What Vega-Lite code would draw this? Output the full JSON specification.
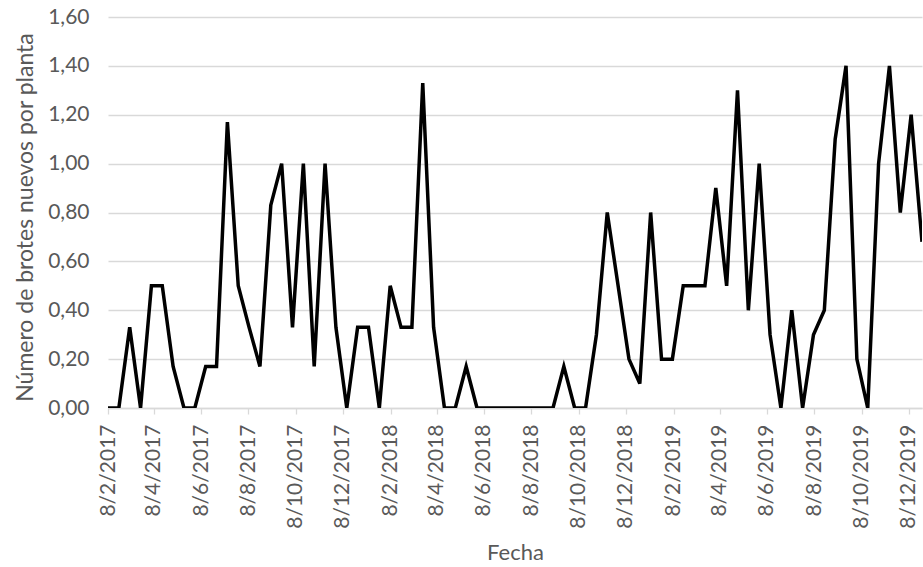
{
  "$schema": "https://vega.github.io/schema/vega-lite/v6.json",
  "autosize": "none",
  "padding": {"left": 108, "top": 17, "right": 1, "bottom": 159},
  "width": 814,
  "height": 391,
  "background": "white",
  "config": {
    "view": {"stroke": null},
    "font": "Lato"
  },
  "data": {
    "values": [
      {"fecha": "2017-02-08T00:00:00", "brotes": 0},
      {"fecha": "2017-02-22T00:00:00", "brotes": 0},
      {"fecha": "2017-03-08T00:00:00", "brotes": 0.33},
      {"fecha": "2017-03-22T00:00:00", "brotes": 0},
      {"fecha": "2017-04-05T00:00:00", "brotes": 0.5},
      {"fecha": "2017-04-19T00:00:00", "brotes": 0.5},
      {"fecha": "2017-05-03T00:00:00", "brotes": 0.17},
      {"fecha": "2017-05-17T00:00:00", "brotes": 0},
      {"fecha": "2017-05-31T00:00:00", "brotes": 0},
      {"fecha": "2017-06-14T00:00:00", "brotes": 0.17},
      {"fecha": "2017-06-28T00:00:00", "brotes": 0.17},
      {"fecha": "2017-07-12T00:00:00", "brotes": 1.17},
      {"fecha": "2017-07-26T00:00:00", "brotes": 0.5},
      {"fecha": "2017-08-09T00:00:00", "brotes": 0.33},
      {"fecha": "2017-08-23T00:00:00", "brotes": 0.17},
      {"fecha": "2017-09-06T00:00:00", "brotes": 0.83},
      {"fecha": "2017-09-20T00:00:00", "brotes": 1.0},
      {"fecha": "2017-10-04T00:00:00", "brotes": 0.33},
      {"fecha": "2017-10-18T00:00:00", "brotes": 1.0},
      {"fecha": "2017-11-01T00:00:00", "brotes": 0.17},
      {"fecha": "2017-11-15T00:00:00", "brotes": 1.0},
      {"fecha": "2017-11-29T00:00:00", "brotes": 0.33},
      {"fecha": "2017-12-13T00:00:00", "brotes": 0},
      {"fecha": "2017-12-27T00:00:00", "brotes": 0.33},
      {"fecha": "2018-01-10T00:00:00", "brotes": 0.33},
      {"fecha": "2018-01-24T00:00:00", "brotes": 0},
      {"fecha": "2018-02-07T00:00:00", "brotes": 0.5},
      {"fecha": "2018-02-21T00:00:00", "brotes": 0.33},
      {"fecha": "2018-03-07T00:00:00", "brotes": 0.33},
      {"fecha": "2018-03-21T00:00:00", "brotes": 1.33},
      {"fecha": "2018-04-04T00:00:00", "brotes": 0.33},
      {"fecha": "2018-04-18T00:00:00", "brotes": 0},
      {"fecha": "2018-05-02T00:00:00", "brotes": 0},
      {"fecha": "2018-05-16T00:00:00", "brotes": 0.17},
      {"fecha": "2018-05-30T00:00:00", "brotes": 0},
      {"fecha": "2018-06-13T00:00:00", "brotes": 0},
      {"fecha": "2018-06-27T00:00:00", "brotes": 0},
      {"fecha": "2018-07-11T00:00:00", "brotes": 0},
      {"fecha": "2018-07-25T00:00:00", "brotes": 0},
      {"fecha": "2018-08-08T00:00:00", "brotes": 0},
      {"fecha": "2018-08-22T00:00:00", "brotes": 0},
      {"fecha": "2018-09-05T00:00:00", "brotes": 0},
      {"fecha": "2018-09-19T00:00:00", "brotes": 0.17},
      {"fecha": "2018-10-03T00:00:00", "brotes": 0},
      {"fecha": "2018-10-17T00:00:00", "brotes": 0},
      {"fecha": "2018-10-31T00:00:00", "brotes": 0.3},
      {"fecha": "2018-11-14T00:00:00", "brotes": 0.8},
      {"fecha": "2018-11-28T00:00:00", "brotes": 0.5},
      {"fecha": "2018-12-12T00:00:00", "brotes": 0.2},
      {"fecha": "2018-12-26T00:00:00", "brotes": 0.1},
      {"fecha": "2019-01-09T00:00:00", "brotes": 0.8},
      {"fecha": "2019-01-23T00:00:00", "brotes": 0.2},
      {"fecha": "2019-02-06T00:00:00", "brotes": 0.2},
      {"fecha": "2019-02-20T00:00:00", "brotes": 0.5},
      {"fecha": "2019-03-06T00:00:00", "brotes": 0.5},
      {"fecha": "2019-03-20T00:00:00", "brotes": 0.5},
      {"fecha": "2019-04-03T00:00:00", "brotes": 0.9},
      {"fecha": "2019-04-17T00:00:00", "brotes": 0.5},
      {"fecha": "2019-05-01T00:00:00", "brotes": 1.3},
      {"fecha": "2019-05-15T00:00:00", "brotes": 0.4},
      {"fecha": "2019-05-29T00:00:00", "brotes": 1.0},
      {"fecha": "2019-06-12T00:00:00", "brotes": 0.3},
      {"fecha": "2019-06-26T00:00:00", "brotes": 0},
      {"fecha": "2019-07-10T00:00:00", "brotes": 0.4},
      {"fecha": "2019-07-24T00:00:00", "brotes": 0},
      {"fecha": "2019-08-07T00:00:00", "brotes": 0.3},
      {"fecha": "2019-08-21T00:00:00", "brotes": 0.4},
      {"fecha": "2019-09-04T00:00:00", "brotes": 1.1},
      {"fecha": "2019-09-18T00:00:00", "brotes": 1.4},
      {"fecha": "2019-10-02T00:00:00", "brotes": 0.2},
      {"fecha": "2019-10-16T00:00:00", "brotes": 0},
      {"fecha": "2019-10-30T00:00:00", "brotes": 1.0},
      {"fecha": "2019-11-13T00:00:00", "brotes": 1.4},
      {"fecha": "2019-11-27T00:00:00", "brotes": 0.8},
      {"fecha": "2019-12-11T00:00:00", "brotes": 1.2},
      {"fecha": "2019-12-25T00:00:00", "brotes": 0.68}
    ]
  },
  "mark": {"type": "line", "color": "black", "strokeWidth": 3.5, "clip": true},
  "encoding": {
    "x": {
      "field": "fecha",
      "type": "temporal",
      "scale": {
        "domain": [
          {"year": 2017, "month": 2, "date": 8},
          {"year": 2019, "month": 12, "date": 25}
        ],
        "nice": false
      },
      "axis": {
        "title": "Fecha",
        "titleFont": "Lato",
        "titleFontSize": 22,
        "titleFontWeight": "normal",
        "titleColor": "#595959",
        "titlePadding": 14,
        "values": [
          {"year": 2017, "month": 2, "date": 8},
          {"year": 2017, "month": 4, "date": 8},
          {"year": 2017, "month": 6, "date": 8},
          {"year": 2017, "month": 8, "date": 8},
          {"year": 2017, "month": 10, "date": 8},
          {"year": 2017, "month": 12, "date": 8},
          {"year": 2018, "month": 2, "date": 8},
          {"year": 2018, "month": 4, "date": 8},
          {"year": 2018, "month": 6, "date": 8},
          {"year": 2018, "month": 8, "date": 8},
          {"year": 2018, "month": 10, "date": 8},
          {"year": 2018, "month": 12, "date": 8},
          {"year": 2019, "month": 2, "date": 8},
          {"year": 2019, "month": 4, "date": 8},
          {"year": 2019, "month": 6, "date": 8},
          {"year": 2019, "month": 8, "date": 8},
          {"year": 2019, "month": 10, "date": 8},
          {"year": 2019, "month": 12, "date": 8}
        ],
        "format": "%-d/%-m/%Y",
        "labelAngle": 270,
        "labelAlign": "right",
        "labelBaseline": "middle",
        "labelFont": "Lato",
        "labelFontSize": 21,
        "labelColor": "#595959",
        "labelPadding": 10,
        "labelOverlap": false,
        "labelFlush": false,
        "grid": false,
        "domainColor": "#d9d9d9",
        "domainWidth": 1.3,
        "tickColor": "#d9d9d9",
        "tickSize": 6,
        "tickWidth": 1.3
      }
    },
    "y": {
      "field": "brotes",
      "type": "quantitative",
      "scale": {"domain": [0, 1.6], "nice": false},
      "axis": {
        "title": "Número de brotes nuevos por planta",
        "titleFont": "Lato",
        "titleFontSize": 23,
        "titleFontWeight": "normal",
        "titleColor": "#595959",
        "titleAngle": 270,
        "titleAlign": "center",
        "titleBaseline": "alphabetic",
        "titleX": -76,
        "titleY": 200,
        "values": [0, 0.2, 0.4, 0.6, 0.8, 1.0, 1.2, 1.4, 1.6],
        "labelExpr": "replace(format(datum.value, '.2f'), '.', ',')",
        "labelFont": "Lato",
        "labelFontSize": 21,
        "labelColor": "#595959",
        "labelPadding": 19,
        "ticks": false,
        "domain": false,
        "gridColor": "#d9d9d9",
        "gridWidth": 1.3
      }
    }
  }
}
